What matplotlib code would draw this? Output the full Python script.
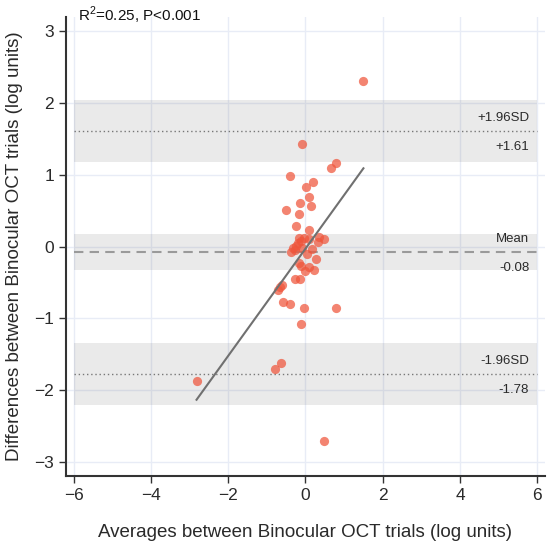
import matplotlib
matplotlib.use("Agg")
import matplotlib.pyplot as plt

plt.rcParams['font.family'] = ['Liberation Sans', 'DejaVu Sans']
plt.rcParams['mathtext.fontset'] = 'custom'
plt.rcParams['mathtext.rm'] = 'Liberation Sans'

# averages (x) and differences (y) between trials
avg_vals = [1.50, -0.09, 0.78, 0.67, -0.39, 0.20, 0.02, 0.10, -0.13, 0.15,
            -0.50, -0.16, -0.25, 0.10, -0.16, -0.11, 0.10, 0.36, 0.47, 0.33,
            -0.33, -0.24, -0.37, 0.17, 0.28, -0.16, -0.11, 0.10, 0.00, 0.21,
            -0.26, -0.13, -0.60, -0.65, -0.71, -0.58, -0.39, -0.05, 0.80, -0.12,
            -0.78, -0.64, -2.82, 0.47, -0.20, -0.05, -0.28, -0.10, 0.05]
diff_vals = [2.31, 1.43, 1.17, 1.10, 0.98, 0.90, 0.83, 0.69, 0.61, 0.56,
             0.51, 0.45, 0.28, 0.23, 0.12, 0.08, 0.10, 0.13, 0.11, 0.06,
             -0.02, 0.01, -0.08, -0.04, -0.17, -0.23, -0.27, -0.29, -0.34, -0.33,
             -0.45, -0.45, -0.53, -0.57, -0.61, -0.77, -0.80, -0.86, -0.86, -1.08,
             -1.71, -1.62, -1.87, -2.71, 0.05, 0.12, -0.05, -0.02, -0.10]

# limits of agreement: name, value, CI half width, label
loa_names = ['+1.96SD', 'Mean', '-1.96SD']
loa_vals = [1.61, -0.08, -1.78]
loa_ci = [0.43, 0.25, 0.43]
loa_labels = ['+1.61', '-0.08', '-1.78']

# regression fit
reg_slope = 0.747
reg_icpt = -0.03
stats_txt = "R$^2$=0.25, P<0.001"

fig = plt.figure(figsize=(5.48, 5.51), dpi=100)
ax = fig.add_axes([0.1204, 0.1361, 0.8741, 0.833])

band_x0, band_x1 = -6, 6
for i in range(len(loa_vals)):
    v = loa_vals[i]
    ax.fill_between([band_x0, band_x1], v - loa_ci[i], v + loa_ci[i],
                    color=(0.45, 0.45, 0.45), alpha=0.15, lw=0, zorder=1)
    if loa_names[i] == 'Mean':
        ax.plot([band_x0, band_x1], [v, v], color='#9a9a9a', lw=1.5,
                linestyle=(0, (4.5, 3)), zorder=2)
    else:
        ax.plot([band_x0, band_x1], [v, v], color='#777777', lw=1,
                linestyle=(0, (1, 2)), zorder=2)
    ax.annotate(loa_names[i], xy=(5.79, v), xytext=(0, 13), textcoords='offset pixels',
                ha='right', va='center', fontsize=9.5, color='#2a2a2a')
    ax.annotate(loa_labels[i], xy=(5.79, v), xytext=(0, -16), textcoords='offset pixels',
                ha='right', va='center', fontsize=9.5, color='#2a2a2a')

ax.scatter(avg_vals, diff_vals, s=44, color='#EF553B', alpha=0.72, lw=0, zorder=3)

xr = [min(avg_vals), max(avg_vals)]
ax.plot(xr, [reg_slope * xr[0] + reg_icpt, reg_slope * xr[1] + reg_icpt],
        color='#707070', lw=1.5, zorder=4)

ax.set_xlim(-6.2, 6.2)
ax.set_ylim(-3.2, 3.2)
ax.set_xticks([-6, -4, -2, 0, 2, 4, 6])
ax.set_yticks([-3, -2, -1, 0, 1, 2, 3])
ax.set_axisbelow(True)
ax.grid(True, color='#E8ECF6', lw=1)

for s in ['top', 'right']:
    ax.spines[s].set_visible(False)
for s in ['left', 'bottom']:
    ax.spines[s].set_color('#333333')
    ax.spines[s].set_linewidth(1.5)
ax.tick_params(colors='#333333', labelcolor='#2a2a2a', labelsize=12.5, length=5, width=1)

ax.set_xlabel('Averages between Binocular OCT trials (log units)', fontsize=13.5,
              color='#2a2a2a', labelpad=15)
ax.set_ylabel('Differences between Binocular OCT trials (log units)', fontsize=13.5,
              color='#2a2a2a', labelpad=8)

fig.text(78 / 548, 1 - 15 / 551, stats_txt, fontsize=11, color='#111111',
         ha='left', va='center')

fig.savefig('out.png', dpi=100)
